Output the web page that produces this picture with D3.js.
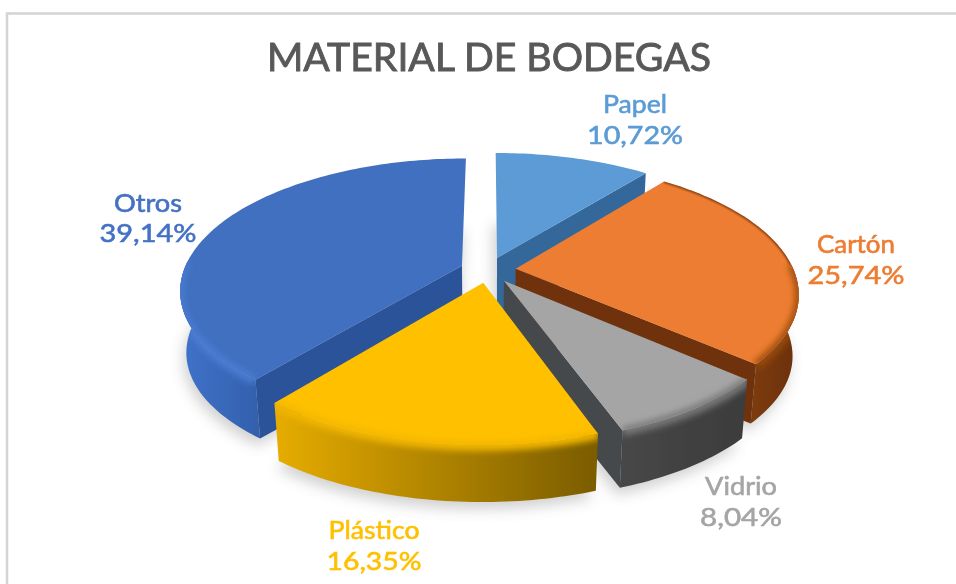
<!DOCTYPE html>
<html>
<head>
<meta charset="utf-8">
<script src="https://cdn.jsdelivr.net/npm/d3@7/dist/d3.min.js"></script>
<style>
  html, body { margin: 0; padding: 0; background: #fff; }
  text { font-family: Lato, "Open Sans", sans-serif; }
</style>
</head>
<body>
<div id="chart"></div>
<script>
// ==== DATA ====
const CATEGORIES = ["Papel", "Cartón", "Vidrio", "Plástico", "Otros"];
const VALUES = [10.72, 25.74, 8.04, 16.35, 39.14];
const VALUE_LABELS = ["10,72%", "25,74%", "8,04%", "16,35%", "39,14%"];
const TITLE = "MATERIAL DE BODEGAS";

// ==== COLORS ====
const TOP_COLORS = ["#5B9BD5", "#ED7D31", "#A5A5A5", "#FFC000", "#416FBF"];
const CUT_COLORS = ["#34679A", "#6F3209", "#45484C", "#7F6000", "#2C5299"];
const WALL_LEFT = ["#34679A", "#7C3A0C", "#474747", "#E6AC00", "#3F72CA"];
const WALL_RIGHT = ["#34679A", "#6A3008", "#3C3C3C", "#7A5C00", "#3461AE"];
const BAND_COLORS = ["#5B9BD5", "#96490F", "#777777", "#F2B600", "#4A7BD2"];
const LABEL_COLORS = ["#5B9BD5", "#ED7D31", "#A5A5A5", "#FFC000", "#4472C4"];

// ==== SIZE / GEOMETRY ====
const width = 956;
const height = 584;
const cx = 488, cy = 270;
const radiusX = 278, radiusY = 128;
const persp = 0.18;     // front of the pie is nearer than the back
const explode = 0.1;    // slice offset, in pie radii
const depth = 62;       // pie thickness in px
const lowerScaleX = 0.98, lowerScaleY = 0.97;

// label centre x, two baselines and two text widths, same order as CATEGORIES
const labelPos = [
  [635, 113, 144, 64, 96],
  [856, 253, 284, 78, 97],
  [741, 495, 526, 72, 82],
  [374, 539, 570, 91, 95],
  [148, 212, 242, 68, 97]
];

// ==== SCALES ====
const x = d3.scaleLinear().domain([-1, 1]).range([cx - radiusX, cx + radiusX]);
const y = d3.scaleLinear().domain([-1, 1]).range([cy + radiusY, cy - radiusY]);

function project(u, v, lower) {
  const s = 1 / (1 + persp * v);
  const px = x(u * s), py = y(v * s);
  if (!lower) return [px, py];
  return [cx + (px - cx) * lowerScaleX, cy + (py - cy) * lowerScaleY + depth];
}

const pie = d3.pie().sort(null).value(d => d).startAngle(0).endAngle(2 * Math.PI);
const arcs = pie(VALUES);
const line = d3.line();

// points along the rim of a slice, between two angles
function rim(slice, a0, a1, lower) {
  const mid = (slice.startAngle + slice.endAngle) / 2;
  const ox = explode * Math.sin(mid), oy = explode * Math.cos(mid);
  const n = Math.max(2, Math.ceil((a1 - a0) / 0.02));
  return d3.range(n + 1).map(i => {
    const a = a0 + (a1 - a0) * i / n;
    return project(ox + Math.sin(a), oy + Math.cos(a), lower);
  });
}
function apex(slice, lower) {
  const mid = (slice.startAngle + slice.endAngle) / 2;
  return project(explode * Math.sin(mid), explode * Math.cos(mid), lower);
}

// ==== ROOT SVG ====
const svg = d3.select("#chart").append("svg")
  .attr("width", width)
  .attr("height", height)
  .attr("viewBox", `0 0 ${width} ${height}`)
  .style("display", "block");

const defs = svg.append("defs");
defs.append("filter").attr("id", "soft").attr("x", "-20%").attr("y", "-20%").attr("width", "140%").attr("height", "140%")
  .append("feGaussianBlur").attr("stdDeviation", 7);
defs.append("filter").attr("id", "band").attr("filterUnits", "userSpaceOnUse")
  .attr("x", 0).attr("y", 0).attr("width", width).attr("height", height)
  .append("feGaussianBlur").attr("stdDeviation", 3);
defs.append("filter").attr("id", "thin").attr("filterUnits", "userSpaceOnUse")
  .attr("x", 0).attr("y", 0).attr("width", width).attr("height", height)
  .append("feGaussianBlur").attr("stdDeviation", 1);
defs.append("filter").attr("id", "edge").attr("filterUnits", "userSpaceOnUse")
  .attr("x", 0).attr("y", 0).attr("width", width).attr("height", height)
  .append("feGaussianBlur").attr("stdDeviation", 0.7);
defs.append("filter").attr("id", "textBlur").attr("filterUnits", "userSpaceOnUse")
  .attr("x", 0).attr("y", 0).attr("width", width).attr("height", height)
  .append("feGaussianBlur").attr("stdDeviation", 0.45);

// Frame: only the top and left lines show
svg.append("path")
  .attr("d", line([[7, height], [7, 13.5], [width, 13.5]]))
  .attr("fill", "none")
  .attr("stroke", "#D4D4D4")
  .attr("stroke-width", 2.5);

// Title
svg.append("text")
  .attr("x", 489)
  .attr("y", 71)
  .attr("text-anchor", "middle")
  .attr("font-size", 39.2)
  .attr("fill", "#595959")
  .attr("stroke", "#595959")
  .attr("stroke-width", 0.9)
  .attr("filter", "url(#textBlur)")
  .text(TITLE);

// ==== SHADOWS ====
svg.append("g").attr("opacity", 0.3).attr("filter", "url(#soft)")
  .attr("transform", "translate(-3,7)")
  .selectAll("path")
  .data(arcs)
  .enter().append("path")
  .attr("fill", "#666")
  .attr("d", d => line([apex(d, true), ...rim(d, d.startAngle, d.endAngle, true)]) + "Z");

// ==== SLICES ====
// back to front: Papel, Otros, Cartón, Vidrio, Plástico
const drawOrder = [0, 4, 1, 2, 3];
const gPie = svg.append("g").attr("filter", "url(#edge)");
const FRONT_FROM = 88 * Math.PI / 180, FRONT_TO = 272 * Math.PI / 180;

drawOrder.forEach(i => {
  const d = arcs[i];
  const g = gPie.append("g").attr("class", "slice");
  const a0 = Math.max(d.startAngle, FRONT_FROM);
  const a1 = Math.min(d.endAngle, FRONT_TO);
  const hasWall = a1 > a0;
  const upper = hasWall ? rim(d, a0, a1, false) : [];

  // outer wall, only the part that faces us
  if (hasWall) {
    const lower = rim(d, a0, a1, true);
    const wall = line([...upper, ...lower.reverse()]) + "Z";
    const xs = upper.map(p => p[0]);
    const grad = defs.append("linearGradient").attr("id", `wall${i}`)
      .attr("gradientUnits", "userSpaceOnUse")
      .attr("x1", d3.min(xs)).attr("x2", d3.max(xs)).attr("y1", 0).attr("y2", 0);
    grad.append("stop").attr("offset", 0).attr("stop-color", WALL_LEFT[i]);
    grad.append("stop").attr("offset", 1).attr("stop-color", WALL_RIGHT[i]);
    defs.append("clipPath").attr("id", `clip${i}`).append("path").attr("d", wall);

    g.append("path").attr("d", wall).attr("fill", `url(#wall${i})`);
    // rounded top edge of the wall
    g.append("g").attr("clip-path", `url(#clip${i})`)
      .append("path")
      .attr("d", line(upper))
      .attr("fill", "none")
      .attr("stroke", BAND_COLORS[i])
      .attr("stroke-width", 11)
      .attr("filter", "url(#band)");
  }

  // cut faces that look toward the viewer
  [[d.startAngle, -Math.PI / 2], [d.endAngle, Math.PI / 2]].forEach(([a, turn]) => {
    if (Math.cos(a + turn) >= -0.01) return;
    const corner = rim(d, a, a + 0.0001, false)[0];
    const cornerLow = rim(d, a, a + 0.0001, true)[0];
    g.append("path")
      .attr("d", line([apex(d, false), corner, cornerLow, apex(d, true)]) + "Z")
      .attr("fill", CUT_COLORS[i]);
  });

  // top face
  const topFace = line([apex(d, false), ...rim(d, d.startAngle, d.endAngle, false)]) + "Z";
  g.append("path").attr("d", topFace).attr("fill", TOP_COLORS[i]);

  // the bevel darkens the top face a little near its rim
  if (hasWall) {
    defs.append("clipPath").attr("id", `topClip${i}`).append("path").attr("d", topFace);
    const shade = g.append("g").attr("clip-path", `url(#topClip${i})`);
    shade.append("path")
      .attr("d", line(upper))
      .attr("fill", "none")
      .attr("stroke", BAND_COLORS[i])
      .attr("stroke-width", 7)
      .attr("filter", "url(#band)");
    // Cartón also has a thin dark fringe along its back rim
    if (i === 1) {
      shade.append("path")
        .attr("d", line(rim(d, d.startAngle, a0, false)))
        .attr("fill", "none")
        .attr("stroke", CUT_COLORS[i])
        .attr("stroke-width", 2.5)
        .attr("filter", "url(#thin)");
    }
  }
});

// ==== LABELS ====
const labels = svg.append("g").selectAll("g")
  .data(CATEGORIES)
  .enter().append("g")
  .attr("fill", (d, i) => LABEL_COLORS[i])
  .attr("stroke", (d, i) => LABEL_COLORS[i])
  .attr("stroke-width", 0.6)
  .attr("filter", "url(#textBlur)")
  .attr("text-anchor", "middle")
  .attr("font-size", 25);

labels.append("text")
  .attr("x", (d, i) => labelPos[i][0])
  .attr("y", (d, i) => labelPos[i][1])
  .attr("textLength", (d, i) => labelPos[i][3])
  .attr("lengthAdjust", "spacingAndGlyphs")
  .text(d => d);

labels.append("text")
  .attr("x", (d, i) => labelPos[i][0])
  .attr("y", (d, i) => labelPos[i][2])
  .attr("textLength", (d, i) => labelPos[i][4])
  .attr("lengthAdjust", "spacingAndGlyphs")
  .text((d, i) => VALUE_LABELS[i]);
</script>
</body>
</html>
